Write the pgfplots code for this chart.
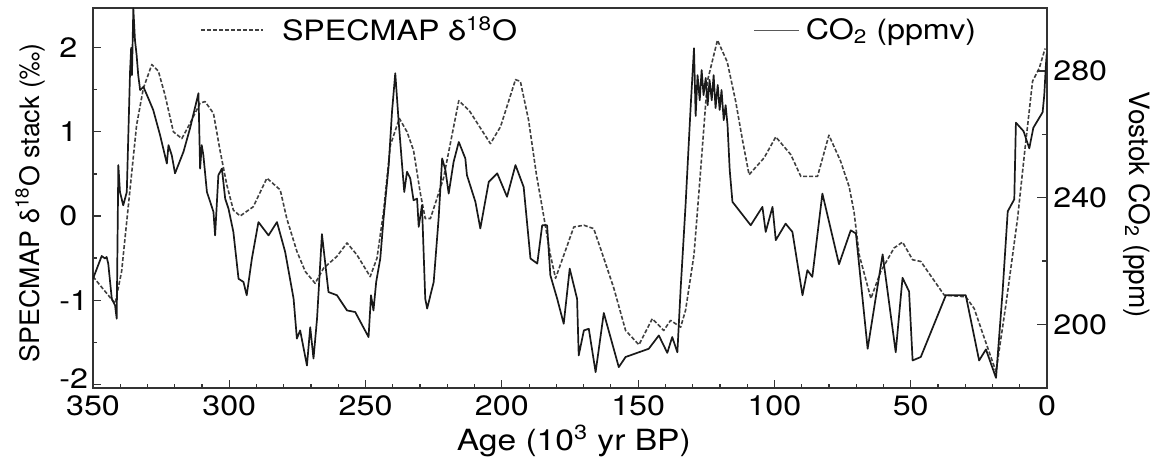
\documentclass[border=0pt]{standalone}
\usepackage{fontspec}
\setmainfont{TeX Gyre Heros}[FakeStretch=1.15]
\newfontfamily\rotfont{TeX Gyre Heros}
\usepackage{pgfplots}
\pgfplotsset{compat=1.18}
\newcommand\fs{\fontsize{14}{16}\selectfont}
\begin{document}
\begin{tikzpicture}
\begin{axis}[
  at={(0,0)}, anchor=south west,
  scale only axis, width=477pt, height=190pt,
  xmin=0, xmax=350, x dir=reverse,
  ymin=-2.04, ymax=2.475,
  xtick={0,50,...,350}, minor x tick num=4,
  ytick={-2,-1,0,1,2}, yticklabels={\raisebox{3pt}[10pt][0pt]{-2},-1,0,1,2}, minor y tick num=1,
  xtick pos=lower, ytick pos=left, tick align=inside,
  major tick length=4pt, minor tick length=2pt,
  axis line style={black!80, line width=1pt},
  every tick/.style={black!80, line width=0.6pt},
  /pgf/number format/assume math mode=true,
  xticklabel style={font=\fs, anchor=base, inner sep=0pt, yshift=-13.65pt},
  yticklabel style={font=\fs, anchor=west, inner sep=0pt, xshift=-17pt},
  xlabel={Age (10\textsuperscript{3} yr BP)},
  xlabel style={font=\fontsize{14.6}{16}\selectfont, at={(axis description cs:0.504,-0.164)}, anchor=base},
  ylabel={\rotfont SPECMAP δ\textsuperscript{18}O stack (‰)},
  ylabel style={font=\fontsize{13.4}{15}\selectfont, at={(axis description cs:-0.066,0.486)}, anchor=center},
  legend image code/.code={\draw[#1] (0pt,0pt) -- (31pt,0pt);},
  legend style={at={(axis description cs:0.1122,0.941)}, anchor=west, draw=none, fill=none,
    inner sep=0pt, font=\fs, nodes={inner sep=0pt}, column sep=9pt},
]
\addplot[black!75, line width=0.8pt, dash pattern=on 2pt off 1pt, mark=none, line join=round] coordinates {
(350,-0.72) (341.9,-1.04) (339.5,-0.66) (337.0,0.13) (334.0,1.08) (331.5,1.52)
(328.4,1.80) (326.0,1.72) (323.6,1.44) (320.5,1.00) (317.4,0.92) (314.4,1.10)
(310.7,1.34) (308.9,1.36) (305.8,1.22) (303.4,0.78) (300.9,0.37) (298.5,0.07)
(296.0,0.00) (291.2,0.11) (286.2,0.45) (281.3,0.31) (278.9,-0.03) (275.2,-0.42)
(272.1,-0.66) (268.5,-0.80) (265.4,-0.62) (260.5,-0.48) (256.8,-0.32) (253.2,-0.46)
(248.3,-0.72) (245.8,-0.50) (243.4,0.05) (240.9,0.84) (237.6,1.16) (234.8,1.00)
(232.4,0.78) (229.9,0.27) (228.1,-0.03) (226.2,-0.03) (221.4,0.45) (215.8,1.37)
(211.9,1.25) (204.2,0.86) (200.5,1.06) (195.0,1.62) (193.2,1.60) (190.2,1.14)
(187.3,0.49) (184.7,0.01) (182.2,-0.46) (180.3,-0.74) (176.0,-0.35) (173.6,-0.13)
(169.9,-0.11) (166.3,-0.15) (162.6,-0.50) (158.9,-0.86) (154.6,-1.36) (149.7,-1.53)
(144.8,-1.22) (140.6,-1.36) (138.1,-1.24) (134.4,-1.32) (132.6,-1.12) (129.5,-0.46)
(127.1,0.53) (124.6,1.60) (120.9,2.09) (117.3,1.83) (114.2,1.36) (111.7,0.90)
(109.3,0.49) (103.8,0.69) (99.5,0.94) (94.0,0.73) (90.3,0.47) (84.2,0.47)
(80.0,0.96) (75.7,0.65) (72.6,0.35) (70.8,0.05) (68.9,-0.46) (64.6,-0.98)
(61.0,-0.66) (56.1,-0.38) (53.0,-0.31) (49.3,-0.52) (46.3,-0.54) (37.7,-0.94)
(29.8,-0.96) (26.7,-1.10) (23.0,-1.45) (18.7,-1.85) (15.1,-1.06) (10.8,-0.03)
(8.3,0.73) (5.3,1.60) (2.8,1.76) (0.7,1.99)
};
\addlegendentry{SPECMAP δ\textsuperscript{18}O}
\end{axis}
\begin{axis}[
  at={(0,0)}, anchor=south west,
  scale only axis, width=477pt, height=190pt,
  xmin=0, xmax=350, x dir=reverse,
  ymin=180, ymax=300,
  axis x line=none, axis y line*=right,
  ytick={200,240,280}, minor y tick num=1,
  tick align=inside, major tick length=5pt, minor tick length=2.5pt,
  axis line style={black!80, line width=1pt},
  every tick/.style={black!80, line width=0.6pt},
  /pgf/number format/assume math mode=true,
  yticklabel style={font=\fs, anchor=west, inner sep=0pt, xshift=3pt},
  ylabel={\rotfont Vostok CO\textsubscript{2} (ppm)},
  ylabel style={font=\fs, at={(axis description cs:1.0943,0.481)}, anchor=center, rotate=180},
  legend image code/.code={\draw[#1, line width=0.45pt, black!65] (0pt,0pt) -- (22.5pt,0pt);},
  legend style={at={(axis description cs:0.6925,0.941)}, anchor=west, draw=none, fill=none,
    inner sep=0pt, font=\fs, nodes={inner sep=0pt}, column sep=3pt},
]
\addplot[black!90, line width=0.85pt, mark=none, line join=round] coordinates {
(350,214.4) (346.8,221.6) (345.6,220.8) (345.0,221.3) (344.4,219.2) (343.1,208.1)
(341.9,206.0) (341.3,201.8) (340.7,250.3) (340.1,241.8) (338.9,237.6) (337.6,241.8)
(336.4,279.8) (336.0,287.3) (335.7,278.7) (335.2,299.8) (334.6,289.8) (334.0,285.1)
(333.4,278.7) (332.7,274.0) (331.5,275.0) (329.7,271.4) (327.9,267.7) (325.4,259.8)
(322.9,250.8) (322.3,256.6) (321.1,253.4) (319.9,247.7) (316.8,254.5) (314.4,261.9)
(311.3,273.0) (310.7,249.2) (310.1,256.6) (309.5,253.4) (308.2,241.8) (307.0,238.7)
(305.8,235.5) (305.2,228.1) (304.6,237.6) (304.0,247.1) (302.7,249.2) (301.5,239.7)
(300.3,236.6) (298.5,229.2) (296.6,214.4) (294.8,213.4) (293.6,209.2) (291.7,220.8)
(289.3,232.3) (285.6,228.1) (282.5,232.3) (279.5,222.9) (276.4,208.1) (275.2,195.5)
(274.0,198.1) (271.5,187.0) (270.3,199.1) (269.1,189.2) (267.8,201.8) (266.0,228.5)
(263.6,210.2) (260.5,209.2) (256.8,204.4) (253.8,203.9) (248.9,196.0) (248.0,209.2)
(247.1,204.4) (246.1,213.4) (244.6,220.8) (243.4,233.4) (241.5,250.3) (240.3,267.1)
(239.1,279.3) (237.9,264.5) (236.6,250.3) (235.8,241.8) (234.8,248.2) (233.6,246.1)
(232.4,239.2) (231.1,239.7) (230.5,230.8) (229.3,237.6) (228.1,208.1) (227.4,205.0)
(225.0,213.4) (223.2,233.4) (221.9,252.4) (220.7,248.7) (219.5,241.3) (217.7,251.3)
(215.8,257.6) (213.4,252.4) (212.8,247.1) (209.7,238.7) (207.9,230.3) (204.8,245.0)
(201.7,247.7) (198.1,240.3) (195.0,250.3) (192.0,243.4) (189.5,220.8) (187.0,219.2)
(185.2,231.3) (183.4,231.3) (182.2,215.5) (179.7,208.1) (177.3,200.2) (175.1,217.6)
(172.4,208.1) (171.8,190.2) (169.9,198.1) (168.1,198.6) (165.6,184.9) (162.6,203.6)
(157.1,186.5) (154.6,189.7) (146.1,192.3) (142.4,196.5) (139.3,191.0) (137.5,196.0)
(135.6,191.2) (134.4,211.3) (132.6,237.6) (130.7,269.2) (129.5,287.2) (128.9,265.8)
(128.2,278.7) (127.4,270.8) (126.7,280.3) (126.0,272.4) (125.2,277.8) (124.5,269.2)
(123.8,277.2) (123.0,270.8) (122.3,278.7) (121.6,268.3) (120.8,275.6) (120.1,267.7)
(119.4,274.0) (118.6,264.5) (117.9,269.2) (117.2,262.9) (116.4,248.7) (115.4,238.7)
(108.7,231.3) (104.4,237.1) (103.2,229.2) (100.7,237.1) (99.5,226.6) (95.9,231.8)
(93.4,229.2) (89.7,209.2) (87.9,217.1) (86.1,215.0) (82.4,241.3) (76.3,219.0)
(72.0,229.7) (70.1,228.7) (65.8,192.3) (60.3,222.1) (55.5,191.2) (53.0,214.7)
(50.6,210.4) (49.3,188.6) (46.3,189.7) (37.1,209.2) (29.8,209.2) (24.9,188.6)
(22.4,192.1) (18.7,183.1) (16.3,210.2) (14.4,235.7) (12.0,239.5) (11.4,263.7)
(8.6,261.0) (6.5,255.6) (5.0,262.1) (1.6,267.0) (1.0,272.4) (0.4,281.9) (0.1,285.5)
};
\addlegendentry{CO\textsubscript{2} (ppmv)}
\end{axis}
\pgfresetboundingbox
\path[use as bounding box] (-46.5pt,-34.15pt) rectangle (534.5pt,193.85pt);
\end{tikzpicture}
\end{document}
